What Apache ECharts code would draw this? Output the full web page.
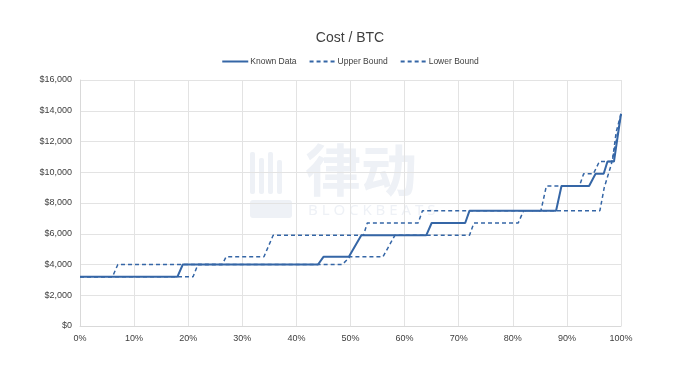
<!DOCTYPE html>
<html>
<head>
<meta charset="utf-8">
<script src="https://cdn.jsdelivr.net/npm/echarts@6/dist/echarts.min.js"></script>
<style>html,body{margin:0;padding:0;background:#fff}#c{width:700px;height:375px}</style>
</head>
<body>
<div id="c"></div>
<script>
// x = percentile (%), y = cost per BTC ($)
const knownData = [[0,3200],[18,3200],[19,4000],[44,4000],[45,4500],[49.7,4500],[52,5900],[64,5900],[65,6700],[71.2,6700],[72,7500],[88,7500],[89,9100],[94.1,9100],[95.3,9900],[96.8,9900],[97.5,10700],[98.7,10700],[100,13800]];
const upperBound = [[0,3200],[6,3200],[7,4000],[26.3,4000],[27,4500],[34,4500],[35.7,5900],[52.4,5900],[53.1,6700],[62.5,6700],[63.3,7500],[85.2,7500],[86.2,9100],[92.3,9100],[93.1,9900],[94.9,9900],[96,10700],[98.4,10700],[99.1,12600],[100,13800]];
const lowerBound = [[0,3200],[20.9,3200],[21.8,4000],[48.5,4000],[49.9,4500],[56,4500],[58.2,5900],[72,5900],[72.8,6700],[81,6700],[82,7500],[96.1,7500],[96.9,9000],[98.2,10500],[99.1,12000],[100,13800]];
const seriesNames = ['Known Data','Upper Bound','Lower Bound'];

const color = '#3566a6';
const font = '"Liberation Sans Narrow", "Liberation Sans", Arial, sans-serif';
const wm = '#eef1f6';
const chart = echarts.init(document.getElementById('c'));
chart.setOption({
  animation: false,
  backgroundColor: '#fff',
  title: {text: 'Cost / BTC', left: 'center', top: 26, textStyle: {fontFamily: font, fontSize: 14, fontWeight: 'normal', color: '#404040'}},
  legend: {top: 52, left: 'center', itemWidth: 26, itemHeight: 8, itemGap: 12,
    itemStyle: {opacity: 0},
    textStyle: {fontFamily: font, fontSize: 8.5, color: '#404040', padding: [0, 0, 0, -3]}, data: seriesNames},
  graphic: [
    {type: 'rect', left: 250, top: 152, z: 0, silent: true, shape: {width: 5, height: 42, r: 2}, style: {fill: wm}},
    {type: 'rect', left: 259, top: 158, z: 0, silent: true, shape: {width: 5, height: 36, r: 2}, style: {fill: wm}},
    {type: 'rect', left: 268, top: 152, z: 0, silent: true, shape: {width: 5, height: 42, r: 2}, style: {fill: wm}},
    {type: 'rect', left: 277, top: 160, z: 0, silent: true, shape: {width: 5, height: 34, r: 2}, style: {fill: wm}},
    {type: 'rect', left: 250, top: 200, z: 0, silent: true, shape: {width: 42, height: 18, r: 3}, style: {fill: wm}},
    {type: 'text', left: 305, top: 142, z: 0, silent: true, style: {text: '律动', font: 'bold 56px "Noto Sans CJK SC"', fill: wm}},
    {type: 'text', left: 308, top: 203, z: 0, silent: true, style: {text: 'B L O C K B E A T S', font: '15px "Noto Sans"', fill: wm}}
  ],
  grid: {left: 80, right: 79, top: 80, bottom: 49},
  xAxis: {type: 'value', min: 0, max: 100, interval: 10,
    axisLine: {lineStyle: {color: '#d9d9d9'}}, axisTick: {show: false},
    splitLine: {show: true, lineStyle: {color: '#e3e3e3'}},
    axisLabel: {formatter: v => v + '%', fontFamily: font, fontSize: 9, color: '#404040', margin: 8}},
  yAxis: {type: 'value', min: 0, max: 16000, interval: 2000,
    axisLine: {show: true, lineStyle: {color: '#d9d9d9'}}, axisTick: {show: false},
    splitLine: {lineStyle: {color: '#e3e3e3'}},
    axisLabel: {formatter: v => '$' + v.toLocaleString('en-US'), fontFamily: font, fontSize: 9, color: '#404040', margin: 8}},
  series: [
    {name: seriesNames[0], type: 'line', data: knownData, symbol: 'none', z: 3, lineStyle: {color: color, width: 2}, itemStyle: {color: color}},
    {name: seriesNames[1], type: 'line', data: upperBound, symbol: 'none', z: 2, lineStyle: {color: color, width: 1.5, type: [4, 3]}, itemStyle: {color: color}},
    {name: seriesNames[2], type: 'line', data: lowerBound, symbol: 'none', z: 2, lineStyle: {color: color, width: 1.5, type: [4, 3]}, itemStyle: {color: color}}
  ]
});
</script>
</body>
</html>
